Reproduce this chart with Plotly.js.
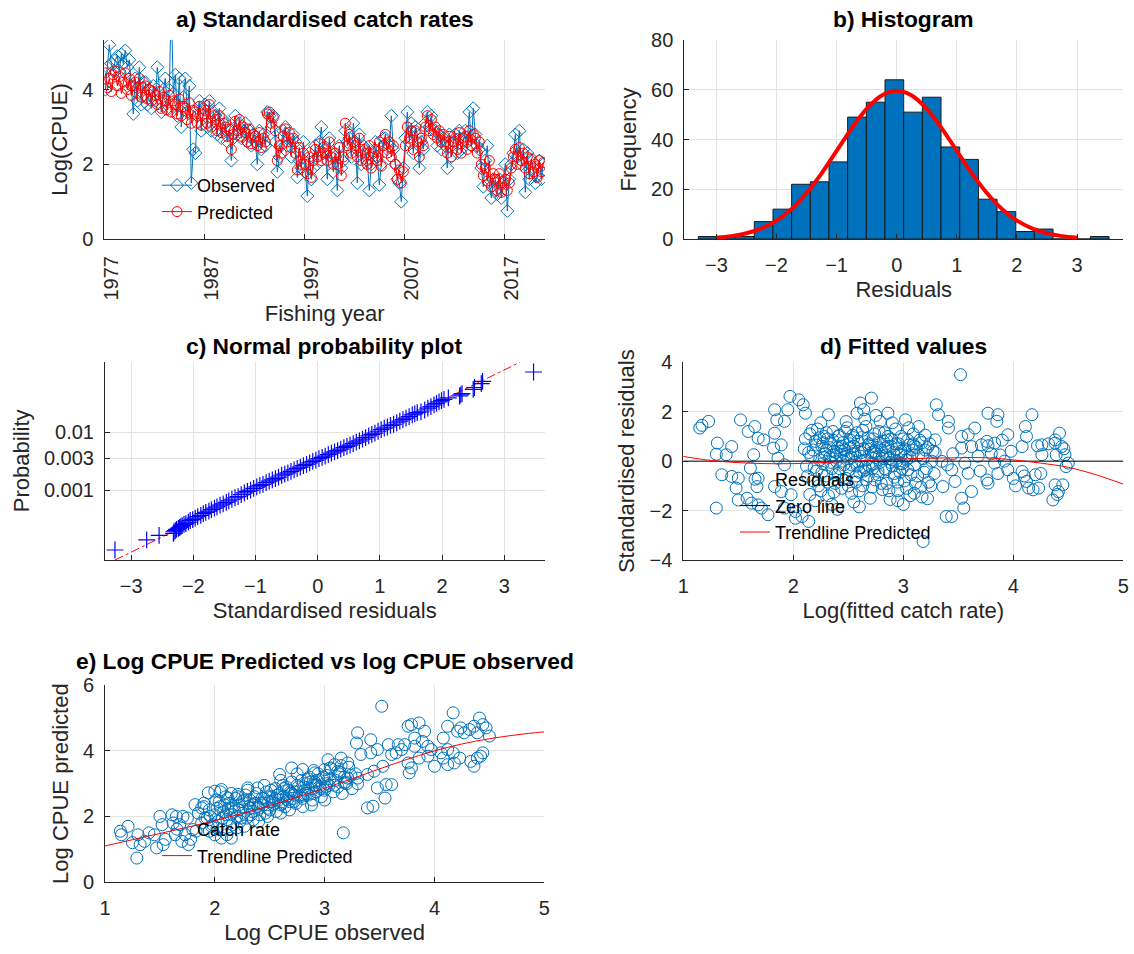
<!DOCTYPE html>
<html>
<head>
<meta charset="utf-8">
<script src="https://cdn.plot.ly/plotly-3.0.1.min.js"></script>
<style>
  html, body { margin: 0; padding: 0; background: #ffffff; }
  #fig { width: 1134px; height: 954px; }
</style>
</head>
<body>
<div id="fig"></div>
<script>
// ---------- a) Standardised catch rates: five samples per fishing year ----------
const seriesStart = 1977.1;
const seriesStep = 0.2;
const yearTicks = [1977, 1987, 1997, 2007, 2017];

const observedLogCpue = [
  4.0,4.6,5.2,4.7,4.5,   4.8,4.9,4.5,4.95,4.7,  5.05,4.6,4.8,4.1,3.35, 4.3,3.7,4.6,3.6,4.2,
  4.2,3.6,4.0,3.5,4.1,   3.7,4.6,4.1,3.4,4.0,   4.3,3.5,4.0,6.4,3.9,   4.4,3.3,4.3,3.0,3.8,
  4.3,3.4,4.1,1.5,2.4,   2.3,3.3,3.7,2.9,3.5,   3.6,3.0,3.7,2.9,3.4,   3.3,2.8,3.5,2.7,3.2,
  3.1,2.6,2.9,2.1,2.7,   3.3,2.8,3.1,2.7,2.9,   3.1,2.6,2.9,2.5,2.8,   2.6,2.0,2.9,2.4,2.8,
  2.5,3.4,3.3,3.0,3.3,   2.6,1.8,2.2,2.5,2.9,   3.0,2.5,2.7,2.2,2.8,   2.6,1.65,2.1,1.9,2.6,
  1.8,1.15,2.3,1.6,1.9,  2.5,2.0,2.6,3.0,2.3,   2.4,1.6,2.7,2.3,1.8,   2.2,1.3,2.5,1.9,2.1,
  2.9,2.6,2.7,2.2,3.1,   2.6,1.5,2.8,2.0,2.5,   2.4,2.1,1.3,2.0,2.3,   2.6,2.2,1.45,2.0,2.7,
  2.7,2.4,2.5,3.3,2.4,   2.0,1.6,1.5,1.0,1.9,   2.7,3.4,2.6,3.1,2.3,   3.0,2.8,1.9,2.6,2.4,
  3.1,3.4,3.0,3.3,2.9,   2.9,2.5,2.8,2.4,2.7,   2.5,1.9,2.8,2.2,2.6,   2.8,2.3,2.9,2.4,2.6,
  2.9,2.6,3.4,2.5,3.5,   2.8,2.5,2.4,1.9,1.4,   2.1,2.5,1.5,1.1,1.6,   1.3,1.2,1.6,1.1,1.5,
  2.0,0.75,1.6,2.0,2.3,  2.8,2.2,2.9,2.0,2.4,   1.25,2.3,1.6,2.1,1.9,  1.5,1.7,2.1,1.6,2.0
];
const predictedLogCpue = [
  4.45,4.05,4.3,3.95,4.4, 4.5,4.1,4.35,3.9,4.2,  4.45,4.0,4.3,3.85,4.1,  4.2,3.9,4.3,3.8,4.05,
  4.1,3.75,4.0,3.7,3.95,  3.85,3.6,3.95,3.5,3.8,  3.7,3.45,3.85,3.4,3.7,  3.6,3.35,3.75,3.3,3.55,
  3.5,3.2,3.65,3.1,3.45,  3.4,3.1,3.55,3.05,3.35, 3.45,3.1,3.6,3.0,3.3,   3.2,2.9,3.3,2.85,3.1,
  3.0,2.75,2.95,2.4,2.8,  3.15,2.9,3.2,2.75,3.0,  2.85,2.6,2.95,2.55,2.8, 2.75,2.5,2.85,2.45,2.7,
  2.6,3.35,3.4,3.1,3.25,  2.9,2.1,2.5,2.3,2.75,   2.95,2.6,2.85,2.45,2.7, 2.3,1.85,2.45,2.0,2.3,
  2.0,1.75,2.2,1.65,2.1,  2.4,2.2,2.55,2.1,2.45,  2.3,2.1,2.6,2.2,2.0,    2.3,2.0,2.45,1.7,2.2,
  3.1,2.5,2.8,2.3,2.6,    2.5,2.2,2.7,2.1,2.4,    2.3,2.0,2.5,1.9,2.2,    2.4,2.1,2.6,1.95,2.5,
  2.8,2.3,2.6,2.2,2.5,    2.0,1.6,1.85,1.5,1.8,   2.5,3.0,2.7,2.9,2.4,    2.9,2.6,2.2,2.7,2.5,
  3.0,3.3,2.9,3.2,2.8,    3.0,2.7,2.9,2.6,2.8,    2.6,2.3,2.75,2.2,2.6,   2.7,2.4,2.85,2.3,2.7,
  2.75,2.4,2.9,2.5,2.8,   2.7,2.3,2.6,2.0,1.7,    1.9,1.55,2.1,1.4,1.75,  1.6,1.3,1.75,1.25,1.55,
  1.6,1.3,1.5,1.9,2.2,    2.4,2.0,2.45,2.1,2.3,   1.9,2.2,1.75,2.15,1.8,  2.0,1.65,2.1,1.8,2.05
];

// ---------- b) Histogram of residuals with fitted normal curve ----------
const binCentres = [-3.146,-2.835,-2.525,-2.214,-1.903,-1.593,-1.282,-0.971,-0.661,-0.350,-0.039,
                    0.271,0.582,0.893,1.204,1.514,1.825,2.136,2.446,2.757,3.068,3.378];
const binWidth = 0.3107;
const binCounts = [1,1,1,7,12,22,23,31,49,55,64,51,57,37,32,16,11,3,4,0,0,1];
const normalX = [-3,-2.75,-2.5,-2.25,-2,-1.75,-1.5,-1.25,-1,-0.75,-0.5,-0.25,0,
                 0.25,0.5,0.75,1,1.25,1.5,1.75,2,2.25,2.5,2.75,3];
const normalY = [0.55,1.16,2.3,4.3,7.4,12.1,18.5,26.4,35.4,44.5,52.3,57.7,59.6,
                 57.7,52.3,44.5,35.4,26.4,18.5,12.1,7.4,4.3,2.3,1.16,0.55];

// ---------- c) Normal probability plot (residual vs normal score) ----------
const probResiduals = [
  -3.26,-2.75,-2.55,-2.32,-2.31,-2.29,-2.27,-2.24,-2.22,-2.2,
  -2.18,-2.15,-2.12,-2.08,-2.05,-2.01,-1.97,-1.93,-1.88,-1.84,-1.80,-1.75,-1.71,-1.66,-1.62,
  -1.57,-1.52,-1.47,-1.43,-1.38,-1.33,-1.28,-1.23,-1.18,-1.13,-1.08,-1.03,-0.98,-0.93,-0.88,
  -0.83,-0.78,-0.73,-0.68,-0.63,-0.58,-0.53,-0.48,-0.43,-0.38,-0.33,-0.28,-0.23,-0.18,-0.13,
  -0.08,-0.03,0.02,0.07,0.12,0.17,0.22,0.27,0.32,0.37,0.42,0.47,0.52,0.57,0.62,0.67,0.72,
  0.77,0.82,0.87,0.92,0.97,1.02,1.07,1.12,1.17,1.22,1.27,1.32,1.37,1.42,1.47,1.52,1.56,1.6,
  1.66,1.72,1.77,1.82,1.87,1.91,1.95,1.99,2.03,
  2.1,2.28,2.3,2.32,2.5,2.52,2.63,2.65,3.47
];
const probScores = [
  -2.93,-2.6,-2.45,-2.38,-2.33,-2.29,-2.25,-2.22,-2.19,-2.16,
  -2.13,-2.09,-2.06,-2.01,-1.96,-1.93,-1.88,-1.83,-1.79,-1.73,-1.69,-1.65,-1.6,-1.55,-1.51,
  -1.45,-1.41,-1.36,-1.31,-1.26,-1.21,-1.17,-1.11,-1.05,-1.0,-0.96,-0.9,-0.85,-0.8,-0.77,
  -0.71,-0.66,-0.62,-0.58,-0.53,-0.47,-0.43,-0.39,-0.34,-0.29,-0.24,-0.2,-0.15,-0.11,-0.06,
  -0.01,0.03,0.08,0.12,0.16,0.21,0.26,0.3,0.34,0.39,0.44,0.48,0.52,0.57,0.62,0.66,0.72,
  0.77,0.83,0.88,0.92,0.98,1.03,1.08,1.12,1.17,1.21,1.26,1.31,1.36,1.41,1.46,1.52,1.55,1.59,
  1.62,1.68,1.74,1.79,1.85,1.9,1.95,1.99,2.03,
  2.08,2.14,2.18,2.22,2.36,2.42,2.55,2.62,2.93
];
const probTickVals = [-0.965, 0.09, 0.945];
const probTickText = ['0.001', '0.003', '0.01'];
const refLineX = [-3.26, 3.25];
const refLineY = [-3.26, 3.25];

// ---------- d) Standardised residuals against fitted values ----------
const fittedD = [
  1.15,1.17,1.23,1.30,1.31,1.30,1.39,1.35,1.44,1.44,1.50,1.52,1.48,1.50,1.59,1.65,1.68,1.73,1.64,1.61,
  1.68,1.67,1.58,1.62,1.68,1.71,1.77,1.83,1.85,1.92,1.97,2.05,2.09,2.11,1.95,1.83,1.89,1.82,1.86,1.92,
  1.83,1.89,1.98,1.92,2.02,2.08,2.14,2.02,2.32,2.61,2.71,2.64,2.58,2.79,2.86,3.02,3.14,3.30,3.32,3.41,
  3.52,3.18,3.39,3.44,3.55,3.10,3.17,3.22,3.77,3.86,3.85,4.17,4.11,4.12,4.08,4.22,4.26,4.32,4.38,4.42,
  4.44,4.46,4.47,4.50,4.48,4.39,4.38,4.26,4.08,4.10,4.12,4.14,4.18,4.23,4.20,4.25,4.38,4.45,4.41,4.36,
  4.40,3.95,3.92,3.95,3.90,3.83,3.76,3.77,3.71,3.76,3.77,3.83,3.88,3.53,3.62,3.56,3.59,3.62,3.53,3.53,
  3.59,3.65,3.35,3.40,3.36,3.47,3.44,3.29,3.41,3.45,3.68,3.70,4.00,4.02,3.98,3.80,3.86,
  2.10,2.12,2.15,2.16,2.18,2.20,2.21,2.22,2.24,2.25,2.26,2.27,2.28,2.29,2.30,2.31,2.32,2.33,2.34,2.35,
  2.36,2.37,2.38,2.39,2.40,2.41,2.42,2.43,2.44,2.45,2.46,2.47,2.48,2.49,2.50,2.51,2.52,2.53,2.54,2.55,
  2.56,2.57,2.58,2.59,2.60,2.61,2.62,2.63,2.64,2.65,2.66,2.67,2.68,2.69,2.70,2.71,2.72,2.73,2.74,2.75,
  2.76,2.77,2.78,2.79,2.80,2.81,2.82,2.83,2.84,2.85,2.86,2.87,2.88,2.89,2.90,2.91,2.92,2.93,2.94,2.95,
  2.96,2.97,2.98,2.99,3.00,3.01,3.02,3.04,3.05,3.06,3.08,3.09,3.10,3.12,3.13,3.15,3.16,3.18,3.20,3.21,
  3.23,3.24,3.26,3.28,3.29,2.20,2.35,2.48,2.55,2.65,2.90,3.00,2.25,2.40,2.60,2.75,2.95,3.05,3.20,2.15,
  2.30,2.45,2.52,2.58,2.62,2.68,2.72,2.78,2.84,2.88,2.94,2.98,3.03,3.10,2.36,2.44,2.53,2.66,2.74,2.82,
  2.11,2.13,2.14,2.17,2.19,2.21,2.23,2.24,2.26,2.28,2.30,2.31,2.33,2.34,2.36,2.37,2.39,2.41,2.42,2.44,
  2.45,2.47,2.48,2.50,2.51,2.53,2.54,2.56,2.57,2.59,2.60,2.62,2.63,2.65,2.66,2.68,2.69,2.71,2.72,2.74,
  2.75,2.77,2.78,2.80,2.81,2.83,2.84,2.86,2.87,2.89,2.90,2.92,2.93,2.95,2.96,2.98,2.99,3.01,3.03,3.04,
  3.06,3.07,3.09,3.11,3.14,3.17,3.19,3.22,3.25,3.27,2.18,2.27,2.38,2.46,2.55,2.64,2.73,2.85,2.97,3.08
];
const residD = [
  1.34,1.45,1.61,-1.90,0.73,0.28,0.26,-0.55,0.59,-0.62,-0.69,1.67,-1.09,-1.57,1.20,1.40,0.93,0.86,0.26,-0.28,
  -0.69,-1.03,-1.50,-1.70,-1.77,-1.90,-2.17,2.08,1.67,1.61,2.62,2.48,2.28,1.94,2.08,1.13,0.66,0.53,0.12,-0.15,
  -1.03,-1.23,-1.36,-1.90,-2.04,-2.24,-2.44,-2.31,1.88,2.35,2.55,2.08,1.94,1.61,1.94,1.67,1.40,2.28,1.88,1.61,
  3.50,-3.25,-2.24,-2.24,-1.90,-1.30,-1.45,-1.52,1.94,1.88,1.61,1.88,1.40,1.00,0.59,0.62,0.66,0.70,0.73,1.13,
  0.59,0.50,0.26,-0.08,-0.22,0.26,0.86,0.26,-0.42,-0.60,-0.82,-1.09,-1.16,-1.09,-0.55,-0.50,-0.96,-0.96,-1.23,-1.57,
  -1.35,-0.35,0.00,1.07,0.85,0.73,0.80,0.62,0.66,-0.76,-0.89,-0.08,0.25,0.53,0.59,-0.08,-0.49,-1.23,-1.50,1.00,
  1.07,1.34,-0.01,-0.15,-1.03,-0.82,-0.35,0.86,1.34,0.30,0.20,-0.40,-0.70,-1.00,0.40,0.30,-0.50,
  0.50,-0.20,1.10,0.20,-0.80,0.80,-0.40,1.30,0.05,-1.20,0.60,-0.10,1.00,0.30,-0.60,0.90,-1.40,0.15,0.70,-0.30,
  1.20,0.40,-0.90,0.00,0.55,-0.50,1.05,0.25,-1.10,0.75,-0.15,0.45,-0.70,1.35,0.10,-0.35,0.85,-1.30,0.30,0.60,
  -0.05,-0.85,1.15,0.40,-0.45,0.20,0.95,-1.00,0.50,-0.25,1.40,0.05,-0.60,0.70,-1.50,0.35,-0.10,0.90,-0.75,0.15,
  0.55,-0.40,1.20,-0.05,0.45,-1.15,0.80,-0.30,0.25,-0.90,1.00,0.10,-1.55,0.60,-0.20,0.35,-0.65,1.30,0.00,-1.20,
  0.70,-0.45,0.40,-0.10,0.90,-0.80,0.20,-0.35,0.65,-1.40,0.30,1.10,-0.15,0.55,-0.60,0.85,-1.05,0.10,0.45,-0.30,
  -0.85,0.70,0.00,-0.50,0.35,-1.60,-1.75,1.60,-1.65,1.70,1.55,-1.75,1.55,-1.95,-1.85,1.85,-1.60,1.35,1.05,-1.35,
  0.45,0.00,0.55,-0.20,0.35,0.65,-0.30,0.20,0.55,-0.05,0.50,0.25,0.05,0.60,0.25,0.40,0.15,-0.35,0.40,0.10,
  0.90,-0.60,0.35,1.25,-0.25,0.65,-1.00,0.95,-0.45,0.15,1.15,-0.85,0.55,-0.05,0.85,-1.25,0.35,1.00,-0.30,0.60,
  -0.75,1.20,0.20,-1.00,0.70,-0.15,1.05,0.30,-0.60,0.80,-1.20,0.00,1.25,0.45,-0.75,0.95,-0.20,0.60,-1.05,1.10,
  0.30,-0.55,0.75,-0.90,0.20,1.15,-0.35,0.60,-1.20,0.90,0.05,-0.50,0.70,-0.85,0.30,1.00,-0.30,0.50,-1.10,0.85,
  0.15,-0.55,0.70,-0.90,0.25,0.75,-0.45,0.55,-1.00,0.40,0.45,0.75,-0.55,0.50,0.95,-0.40,0.35,0.85,-0.10,0.45
];
const zeroLineX = [1, 5];
const zeroLineY = [0, 0];
const trendDX = [1,1.25,1.5,1.75,2,2.25,2.5,2.75,3,3.25,3.5,3.75,4,4.25,4.5,4.75,5];
const trendDY = [0.19,0.03,-0.06,-0.1,-0.1,-0.06,-0.01,0.04,0.09,0.12,0.14,0.14,0.05,-0.08,-0.25,-0.55,-0.93];

// ---------- e) Predicted against observed log CPUE ----------
const fittedE = [
  1.14,1.21,1.15,1.29,1.30,1.36,1.32,1.45,1.50,1.52,1.47,1.53,1.61,1.65,1.68,1.71,1.64,1.70,1.76,1.73,
  1.82,1.83,1.88,1.94,1.91,1.95,2.00,2.06,2.11,2.15,2.00,2.06,2.12,2.21,2.30,2.39,2.59,2.70,2.80,2.91,
  3.00,3.17,3.30,3.29,3.42,3.52,3.39,3.44,3.55,3.56,3.61,3.48,3.15,3.21,3.33,3.42,3.48,3.58,3.61,3.53,
  3.45,3.21,3.18,3.30,3.39,3.76,3.79,3.86,3.91,3.82,3.89,3.76,3.77,3.79,3.86,3.94,4.00,4.08,4.12,4.18,
  4.23,4.17,4.12,4.06,4.08,4.12,4.17,4.21,4.24,4.27,4.36,4.41,4.44,4.47,4.50,4.39,4.32,4.33,4.36,4.39,
  4.44,4.42,3.67,3.70,3.65,3.73,3.82,3.94,3.97,3.03,3.09,3.05,3.12,
  1.85,1.88,1.90,1.93,1.95,1.97,2.00,2.01,2.03,2.05,2.06,2.08,2.10,2.11,2.13,2.14,2.16,2.17,2.19,2.20,
  2.22,2.23,2.25,2.26,2.28,2.29,2.31,2.32,2.34,2.35,2.37,2.38,2.40,2.41,2.43,2.44,2.46,2.47,2.49,2.50,
  2.52,2.53,2.55,2.56,2.58,2.59,2.61,2.62,2.64,2.65,2.67,2.68,2.70,2.71,2.73,2.74,2.76,2.77,2.79,2.80,
  2.82,2.83,2.85,2.86,2.88,2.89,2.91,2.92,2.94,2.95,2.97,2.98,3.00,3.02,3.04,3.06,3.08,3.10,3.12,3.14,
  3.16,3.18,3.20,3.22,3.25,3.28,2.02,2.12,2.22,2.32,2.42,2.52,2.62,2.72,2.82,2.92,3.02,2.15,2.30,2.45,
  2.60,2.75,2.90,2.20,2.40,2.60,2.80,3.00,2.05,2.27,2.48,2.68,2.88,
  1.90,1.96,2.04,2.07,2.09,2.18,2.21,2.24,2.27,2.33,2.36,2.39,2.45,2.48,2.51,2.54,2.57,2.60,2.63,2.66,
  2.69,2.72,2.75,2.78,2.81,2.84,2.87,2.90,2.93,2.96,2.99,3.01,3.05,3.09,3.13,3.19,3.24,3.30,2.30,2.50,
  2.70,2.90,2.55,2.35,2.15,2.65,2.85,3.15,1.75,1.80,1.62,1.55,1.40,1.25,1.78,1.98,2.02,2.10
];
const observedE = [
  1.55,1.70,1.44,0.73,1.44,1.24,1.14,1.44,2.00,1.75,1.04,1.14,2.05,2.00,1.75,2.00,1.44,1.24,1.14,1.44,
  2.36,1.55,2.26,2.72,1.95,1.55,1.44,1.34,1.44,1.34,2.77,2.82,2.56,2.67,2.87,2.87,3.28,3.48,3.43,3.33,
  3.43,1.50,4.55,4.24,4.34,5.36,2.26,2.31,2.56,2.97,2.97,2.87,3.78,3.63,3.89,3.94,4.04,4.19,3.89,3.53,
  3.38,3.17,3.02,3.17,3.28,4.75,4.80,4.85,4.60,4.39,4.29,3.63,3.33,3.48,3.78,3.84,3.53,3.78,3.58,3.63,
  3.78,3.94,4.04,3.94,4.39,4.75,5.16,4.60,4.70,4.55,4.75,5.00,4.80,4.70,4.45,4.55,4.65,3.68,3.53,3.78,
  3.94,3.84,4.19,4.04,3.94,4.19,4.14,4.14,4.04,3.73,3.58,3.48,3.38,
  2.10,1.80,2.40,1.95,2.20,1.70,2.05,2.50,1.85,2.30,1.60,2.15,2.60,1.90,2.40,2.05,1.75,2.30,2.55,2.00,
  2.20,1.85,2.45,2.10,2.65,1.95,2.30,2.50,2.15,1.90,2.40,2.70,2.25,2.05,2.55,2.35,2.10,2.75,2.45,2.20,
  2.60,2.35,2.85,2.15,2.50,2.70,2.40,2.95,2.30,2.60,2.80,2.45,3.05,2.55,2.75,2.40,2.90,2.65,3.10,2.55,
  2.80,3.00,2.65,3.20,2.85,2.50,3.05,2.75,3.30,2.90,2.60,3.15,2.80,3.25,2.95,3.45,2.75,3.10,2.90,3.35,
  2.70,3.20,3.00,3.50,2.85,3.30,2.25,2.20,2.35,2.25,2.40,2.45,2.60,2.65,2.70,2.95,3.00,2.70,2.80,2.95,
  3.10,3.30,3.40,1.65,1.85,2.10,2.30,2.50,2.75,1.70,2.00,2.20,2.35,
  2.30,2.00,2.45,1.95,2.35,2.15,2.60,1.95,2.50,2.05,2.60,2.30,2.55,2.25,2.80,2.40,2.65,2.35,2.85,2.50,
  2.75,2.45,2.95,2.60,2.90,2.70,3.05,2.70,3.10,2.85,3.20,2.90,3.15,2.95,3.30,3.05,3.25,3.00,2.40,2.60,
  2.70,2.95,2.55,2.35,2.25,2.90,3.15,3.55,1.95,1.60,1.80,1.30,1.50,1.20,1.30,1.75,1.65,2.05
];
const trendEX = [1,1.25,1.5,1.75,2,2.25,2.5,2.75,3,3.25,3.5,3.75,4,4.25,4.5,4.75,5];
const trendEY = [1.10,1.29,1.48,1.67,1.87,2.09,2.33,2.59,2.86,3.15,3.45,3.74,4.00,4.21,4.37,4.49,4.58];

// ---------- styling ----------
const FONT = 'Liberation Sans, Arial, Helvetica, sans-serif';
const INK = '#262626';
const MATLAB_BLUE = '#0072bd';
const W = 1134, H = 954;
const px = v => v / W;            // pixel column -> paper x
const py = v => 1 - v / H;        // pixel row -> paper y

function axis(extra) {
  return Object.assign({
    showline: true, linecolor: INK, linewidth: 1, mirror: false,
    ticks: 'inside', ticklen: 5, tickwidth: 1, tickcolor: INK,
    showgrid: true, gridcolor: '#e2e2e2', gridwidth: 1,
    zeroline: false, automargin: false, fixedrange: true,
    tickfont: { family: FONT, size: 20, color: INK }
  }, extra);
}
function axTitle(text, standoff) {
  return { text: text, font: { family: FONT, size: 22, color: INK }, standoff: standoff };
}

const traces = [
  // a)
  { x0: seriesStart, dx: seriesStep, y: observedLogCpue, type: 'scatter', mode: 'lines+markers',
    name: 'Observed', xaxis: 'x', yaxis: 'y', legend: 'legend',
    line: { color: MATLAB_BLUE, width: 1 },
    marker: { symbol: 'diamond-open', size: 10, color: MATLAB_BLUE, line: { width: 1 } } },
  { x0: seriesStart, dx: seriesStep, y: predictedLogCpue, type: 'scatter', mode: 'lines+markers',
    name: 'Predicted', xaxis: 'x', yaxis: 'y', legend: 'legend',
    line: { color: '#ff0000', width: 1 },
    marker: { symbol: 'circle-open', size: 10, color: '#ff0000', line: { width: 1 } } },
  // b)
  { x: binCentres, y: binCounts, type: 'bar', width: binWidth, xaxis: 'x2', yaxis: 'y2',
    showlegend: false,
    marker: { color: MATLAB_BLUE, line: { color: '#1a1a1a', width: 1 } } },
  { x: normalX, y: normalY, type: 'scatter', mode: 'lines', xaxis: 'x2', yaxis: 'y2',
    showlegend: false, line: { color: '#ff0000', width: 4, shape: 'spline' } },
  // c)
  { x: refLineX, y: refLineY, type: 'scatter', mode: 'lines', xaxis: 'x3', yaxis: 'y3',
    showlegend: false, line: { color: '#ff0000', width: 1, dash: 'dashdot' } },
  { x: probResiduals, y: probScores, type: 'scatter', mode: 'markers', xaxis: 'x3', yaxis: 'y3',
    showlegend: false,
    marker: { symbol: 'cross-thin', size: 12, color: '#0000ff', line: { color: '#0000ff', width: 1.2 } } },
  // d)
  { x: fittedD, y: residD, type: 'scatter', mode: 'markers', name: 'Residuals',
    xaxis: 'x4', yaxis: 'y4', legend: 'legend2',
    marker: { symbol: 'circle-open', size: 12, color: MATLAB_BLUE, line: { width: 1 } } },
  { x: zeroLineX, y: zeroLineY, type: 'scatter', mode: 'lines', name: 'Zero line',
    xaxis: 'x4', yaxis: 'y4', legend: 'legend2', line: { color: '#000000', width: 1 } },
  { x: trendDX, y: trendDY, type: 'scatter', mode: 'lines', name: 'Trendline Predicted',
    xaxis: 'x4', yaxis: 'y4', legend: 'legend2', line: { color: '#ff0000', width: 1, shape: 'spline' } },
  // e)
  { x: fittedE, y: observedE, type: 'scatter', mode: 'markers', name: 'Catch rate',
    xaxis: 'x5', yaxis: 'y5', legend: 'legend3',
    marker: { symbol: 'circle-open', size: 12, color: MATLAB_BLUE, line: { width: 1 } } },
  { x: trendEX, y: trendEY, type: 'scatter', mode: 'lines', name: 'Trendline Predicted',
    xaxis: 'x5', yaxis: 'y5', legend: 'legend3', line: { color: '#ff0000', width: 1, shape: 'spline' } }
];

function legendAt(x, y) {
  return {
    x: px(x), y: py(y), xanchor: 'left', yanchor: 'top',
    bgcolor: 'rgba(0,0,0,0)', borderwidth: 0,
    font: { family: FONT, size: 18, color: '#000000' },
    traceorder: 'normal', itemclick: false, itemdoubleclick: false
  };
}

function panelTitle(text, x, y) {
  return { text: '<b>' + text + '</b>', x: px(x), y: py(y), xref: 'paper', yref: 'paper',
           xanchor: 'center', yanchor: 'middle', showarrow: false,
           font: { family: FONT, size: 22.8, color: '#000000' } };
}

const layout = {
  width: W, height: H,
  margin: { l: 0, r: 0, t: 0, b: 0 },
  paper_bgcolor: '#ffffff', plot_bgcolor: '#ffffff',
  font: { family: FONT, color: INK },
  showlegend: true,
  // a)
  xaxis: axis({ domain: [px(104.3), px(545)], anchor: 'y', range: [1977, 2021.07],
    tickvals: yearTicks, tickangle: -90, ticklabelstandoff: 8, ticklabelshift: 7,
    title: axTitle('Fishing year', 6) }),
  yaxis: axis({ domain: [py(239), py(40)], anchor: 'x', range: [0, 5.33],
    tickvals: [0, 2, 4], ticklabelstandoff: 6,
    title: axTitle('Log(CPUE)', 8) }),
  // b)
  xaxis2: axis({ domain: [px(684.3), px(1123.3)], anchor: 'y2', range: [-3.534, 3.77],
    tickvals: [-3, -2, -1, 0, 1, 2, 3], ticklabelstandoff: 8,
    title: axTitle('Residuals', 6) }),
  yaxis2: axis({ domain: [py(239), py(40)], anchor: 'x2', range: [0, 80],
    tickvals: [0, 20, 40, 60, 80], ticklabelstandoff: 6,
    title: axTitle('Frequency', 8) }),
  // c)
  xaxis3: axis({ domain: [px(105), px(544.5)], anchor: 'y3', range: [-3.42, 3.646],
    tickvals: [-3, -2, -1, 0, 1, 2, 3], ticklabelstandoff: 8,
    title: axTitle('Standardised residuals', 6) }),
  yaxis3: axis({ domain: [py(560), py(361.7)], anchor: 'x3', range: [-3.26, 3.27],
    tickvals: probTickVals, ticktext: probTickText, ticklabelstandoff: 6,
    title: axTitle('Probability', 8) }),
  // d)
  xaxis4: axis({ domain: [px(683.3), px(1123.3)], anchor: 'y4', range: [1, 5],
    tickvals: [1, 2, 3, 4, 5], ticklabelstandoff: 8,
    title: axTitle('Log(fitted catch rate)', 6) }),
  yaxis4: axis({ domain: [py(560), py(362.3)], anchor: 'x4', range: [-4, 4],
    tickvals: [-4, -2, 0, 2, 4], ticklabelstandoff: 6,
    title: axTitle('Standardised residuals', 8) }),
  // e)
  xaxis5: axis({ domain: [px(105), px(544.3)], anchor: 'y5', range: [1, 5],
    tickvals: [1, 2, 3, 4, 5], ticklabelstandoff: 8,
    title: axTitle('Log CPUE observed', 6) }),
  yaxis5: axis({ domain: [py(882), py(685.3)], anchor: 'x5', range: [0, 6],
    tickvals: [0, 2, 4, 6], ticklabelstandoff: 6,
    title: axTitle('Log CPUE predicted', 8) }),
  legend: legendAt(157, 167),
  legend2: legendAt(735, 461),
  legend3: legendAt(157, 811),
  annotations: [
    panelTitle('a) Standardised catch rates', 324.6, 19),
    panelTitle('b) Histogram', 903.8, 19),
    panelTitle('c) Normal probability plot', 324.6, 346),
    panelTitle('d) Fitted values', 903.3, 346),
    panelTitle('e) Log CPUE Predicted vs log CPUE observed', 324.6, 661)
  ]
};

Plotly.newPlot('fig', traces, layout, { staticPlot: true, displayModeBar: false });
</script>
</body>
</html>
